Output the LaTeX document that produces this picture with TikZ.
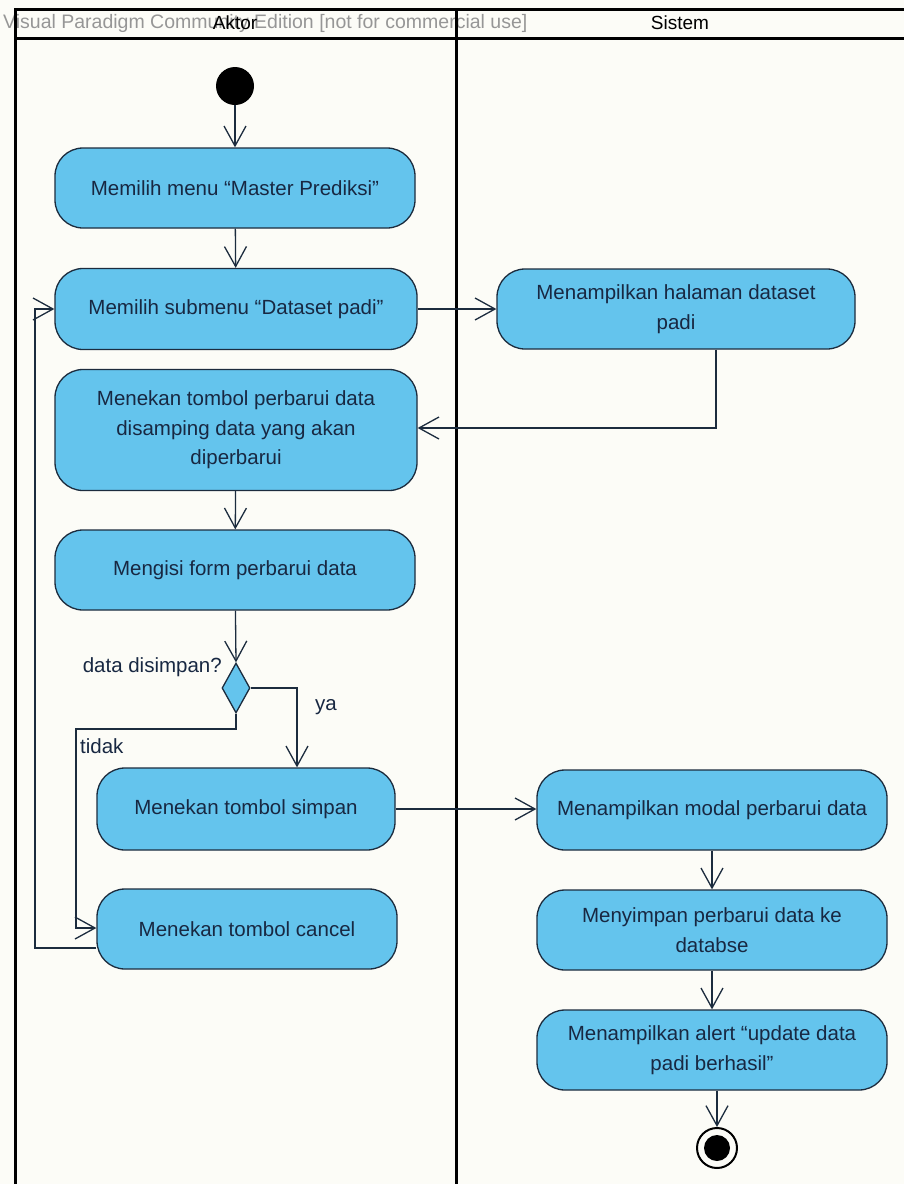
\documentclass[tikz,border=0pt]{standalone}
\usepackage{fontspec}
\setmainfont{Liberation Sans}
\usetikzlibrary{arrows.meta,shapes.geometric}

\definecolor{actfill}{RGB}{100,196,237}
\definecolor{actline}{RGB}{28,44,62}
\definecolor{acttext}{RGB}{24,40,66}
\definecolor{vpgray}{RGB}{150,150,150}
\definecolor{paper}{RGB}{252,252,247}

\tikzset{
  act/.style={draw=actline, line width=1.3pt, fill=actfill, rounded corners=28pt,
    align=center, text=acttext, font=\fontsize{20.5}{29.5}\selectfont, inner sep=0pt},
  flow/.style={draw=actline, line width=1.3pt,
    -{Straight Barb[length=20pt,width=22pt,line width=1.3pt]}},
  lane/.style={line width=3pt, draw=black},
  guard/.style={text=acttext, font=\fontsize{20.5}{24}\selectfont, inner sep=0pt},
  head/.style={text=black, font=\fontsize{19}{22}\selectfont, inner sep=0pt},
}

\begin{document}
\begin{tikzpicture}[x=1pt,y=-1pt]
\fill[paper] (0,0) rectangle (904,1184);
\useasboundingbox (0,0) rectangle (904,1184);

% swimlane frame
\node[anchor=west, text=vpgray, font=\fontsize{19.5}{22}\selectfont, inner sep=0pt] (vp) at (3,23) {Visual Paradigm Community Edition [not for commercial use]};
\draw[lane] (14,9) -- (906,9);
\draw[lane] (14,38) -- (906,38);
\draw[lane] (15,8) -- (15,1186);
\draw[lane] (456,8) -- (456,1186);
\node[head] (h1) at (235,23) {Aktor};
\node[head] (h2) at (680,23) {Sistem};

% Aktor lane
\node[circle, fill=black, minimum size=38pt, inner sep=0pt] (start) at (235,86) {};
\node[act, minimum width=360pt, minimum height=80pt] (a1) at (235,188) {Memilih menu “Master Prediksi”};
\node[act, minimum width=362pt, minimum height=81pt] (a2) at (236,309) {Memilih submenu “Dataset padi”};
\node[act, minimum width=362pt, minimum height=121pt] (a3) at (236,430) {Menekan tombol perbarui data\\disamping data yang akan\\diperbarui};
\node[act, minimum width=360pt, minimum height=80pt] (a4) at (235,570) {Mengisi form perbarui data};
\node[diamond, draw=actline, line width=1.3pt, fill=actfill, minimum width=28pt, minimum height=50pt, inner sep=0pt, aspect=0.56] (dec) at (236,688) {};
\node[act, minimum width=298pt, minimum height=82pt] (a5) at (246,809) {Menekan tombol simpan};
\node[act, minimum width=300pt, minimum height=80pt] (a6) at (247,929) {Menekan tombol cancel};

% Sistem lane
\node[act, minimum width=358pt, minimum height=80pt] (s1) at (676,309) {Menampilkan halaman dataset\\padi};
\node[act, minimum width=350pt, minimum height=80pt] (s2) at (712,810) {Menampilkan modal perbarui data};
\node[act, minimum width=350pt, minimum height=80pt] (s3) at (712,930) {Menyimpan perbarui data ke\\databse};
\node[act, minimum width=350pt, minimum height=80pt] (s4) at (712,1050) {Menampilkan alert “update data\\padi berhasil”};
\node[circle, draw=black, line width=2pt, fill=paper, minimum size=40pt, inner sep=0pt] (end) at (717,1148) {};
\node[circle, fill=black, minimum size=26pt, inner sep=0pt] (endin) at (end.center) {};

% guards
\node[guard, anchor=east] (gq) at (222,667) {data disimpan?};
\node[guard, anchor=west] (gya) at (315,707) {ya};
\node[guard, anchor=west] (gtidak) at (80,746) {tidak};

% flows
\draw[flow] (start) -- (a1);
\draw[flow] (a1) -- (a2);
\draw[flow] (a2.east) -- (s1.west |- a2.east);
\draw[flow] (s1.south -| 716,0) |- (a3.east |- 0,428);
\draw[flow] (a3) -- (a4);
\draw[flow] (a4) -- (dec.north);
\draw[flow] (dec.east) -| (a5.north -| 297,0);
\draw[flow] (dec.south) |- (76,729) |- (a6.west |- 0,928);
\draw[flow] (a6.west |- 0,948) -| (35,309) -- (a2.west);
\draw[flow] (a5.east) -- (s2.west |- a5.east);
\draw[flow] (s2) -- (s3);
\draw[flow] (s3) -- (s4);
\draw[flow] (s4.south -| end.north) -- (end.north);
\end{tikzpicture}
\end{document}
